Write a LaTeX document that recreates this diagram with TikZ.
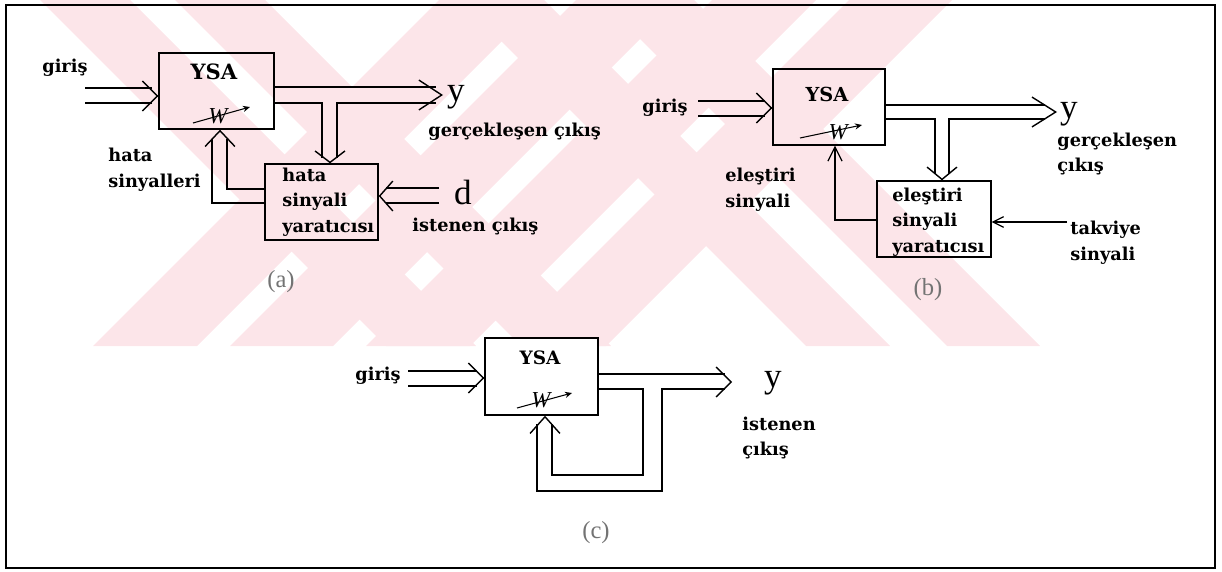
\documentclass[tikz,border=0pt]{standalone}
\usepackage{fontspec}
\setmainfont{DejaVu Serif}
\newfontfamily\thinfont{Liberation Serif}
\usetikzlibrary{arrows.meta,fit,calc}

\definecolor{wmpink}{RGB}{252,229,233}

\tikzset{
  blockbox/.style={draw, line width=0.8pt, inner sep=0pt},
  blocktitle/.style={font=\fontsize{#1}{13}\selectfont\bfseries, inner sep=0pt},
  blocktitle/.default=11,
  lbl/.style={font=\fontsize{10.1}{14.6}\selectfont\bfseries, inner sep=0pt, anchor=west, align=left},
  bigsym/.style={font=\thinfont\fontsize{20}{22}\selectfont, inner sep=0pt},
  wsym/.style={font=\thinfont\itshape\fontsize{13}{15}\selectfont, inner sep=0pt},
  sublbl/.style={font=\thinfont\fontsize{14}{16}\selectfont, inner sep=0pt, text=black!55},
  wire/.style={line width=0.8pt},
  vhead/.style={line width=0.8pt, -{Straight Barb[length=#1, width=17pt]}},
  vhead/.default=8.5pt,
  shead/.style={line width=0.7pt, -{Straight Barb[length=#1, width=#1]}},
  shead/.default=7pt,
  wtip/.style={line width=0.6pt, -{Stealth[length=4pt, width=3.5pt]}},
  wmark/.style={fill=wmpink, draw=none}
}

\begin{document}
\begin{tikzpicture}[x=0.02cm, y=-0.02cm]
  \useasboundingbox (0,0) rectangle (1222,571);

  % pale stripes in the background
  \begin{scope}
    \clip (6,0) rectangle (1215,346);
    \foreach \a/\w in {93/104,230/103,366/104,503/103}
      \fill[wmark] (\a,346) -- ++(\w,0) -- ++(346,-346) -- ++(-\w,0) -- cycle;
    \foreach \b/\w in {40/90,175/90,460/84,601/93}
      \fill[wmark] (\b,0) -- ++(\w,0) -- ++(346,346) -- ++(-\w,0) -- cycle;
  \end{scope}

  % Frame
  \draw[line width=1pt] (6,5) rectangle (1215,568);

  %%% (a)
  \node[blockbox, fit={(159,53) (274,129)}] (ysaA) {};
  \node[blocktitle=12] (ysaAtitle) at (214,72) {YSA};
  \node[wsym] (wA) at (218,116) {W};
  \draw[wtip] (193,123) -- (250,107);
  \node[blockbox, fit={(265,164) (378,240)}] (genA) {};
  \node[lbl] (genAtext) at (282,202) {hata\\sinyali\\yaratıcısı};

  % input
  \node[lbl] (girisA) at (42,68) {giriş};
  \coordinate (inA) at (ysaA.west |- 0,96);
  \draw[wire] (85,88) -- (152,88);
  \draw[wire] (85,103) -- (152,103);
  \draw[vhead] ($(inA)+(-1,0)$) -- (inA);

  % output, split down to the generator
  \coordinate (outA) at (443,95);
  \draw[wire] (ysaA.east |- 0,87) -- (436,87);
  \draw[wire] (ysaA.east |- 0,103) -| (322,158);
  \draw[wire] (436,103) -| (337,158);
  \draw[vhead=13pt] ($(outA)+(-1,0)$) -- (outA);
  \coordinate (downA) at (genA.north -| 330,0);
  \draw[vhead=6.5pt] ($(downA)+(0,-1)$) -- (downA);

  % error signals back to the network
  \coordinate (fbA) at (ysaA.south -| 220,0);
  \draw[wire] (genA.west |- 0,189) -| (227,139);
  \draw[wire] (genA.west |- 0,203) -| (212,139);
  \draw[vhead=9pt] ($(fbA)+(0,1)$) -- (fbA);

  % desired output
  \coordinate (dA) at (genA.east |- 0,196);
  \node[bigsym] (dsymA) at (463,192) {d};
  \draw[wire] (439,188) -- (386,188);
  \draw[wire] (439,203) -- (386,203);
  \draw[vhead=7.5pt] ($(dA)+(1,0)$) -- (dA);

  \node[bigsym] (yA) at (456,97) {y};
  \node[lbl] (realA) at (428,132) {gerçekleşen çıkış};
  \node[lbl] (errA) at (108,170) {hata\\sinyalleri};
  \node[lbl] (wantA) at (412,226) {istenen çıkış};
  \node[sublbl] (capA) at (281,282) {(a)};

  %%% (b)
  \node[blockbox, fit={(773,69) (885,145)}] (ysaB) {};
  \node[blocktitle] (ysaBtitle) at (827,94) {YSA};
  \node[wsym] (wB) at (838,132) {W};
  \draw[wtip] (800,138) -- (862,125);
  \node[blockbox, fit={(877,181) (991,257)}] (genB) {};
  \node[lbl] (genBtext) at (892,222) {eleştiri\\sinyali\\yaratıcısı};

  % input
  \node[lbl] (girisB) at (642,108) {giriş};
  \coordinate (inB) at (ysaB.west |- 0,108);
  \draw[wire] (698,101) -- (765,101);
  \draw[wire] (698,116) -- (765,116);
  \draw[vhead] ($(inB)+(-1,0)$) -- (inB);

  % output, split down to the generator
  \coordinate (outB) at (1057,112);
  \draw[wire] (ysaB.east |- 0,105) -- (1045,105);
  \draw[wire] (ysaB.east |- 0,119) -| (935,174);
  \draw[wire] (1045,119) -| (949,174);
  \draw[vhead=13.5pt] ($(outB)+(-1,0)$) -- (outB);
  \coordinate (downB) at (genB.north -| 942,0);
  \draw[vhead=7pt] ($(downB)+(0,-1)$) -- (downB);

  % critic signal back, reinforcement in
  \coordinate (fbB) at (ysaB.south -| 835,0);
  \draw[shead=8pt] (genB.west |- 0,220) -| (fbB);
  \draw[shead=6pt] (1067,222) -- (genB.east |- 0,222);

  \node[bigsym] (yB) at (1069,114) {y};
  \node[lbl] (realB) at (1057,154) {gerçekleşen\\çıkış};
  \node[lbl] (critB) at (725,190) {eleştiri\\sinyali};
  \node[lbl] (reinfB) at (1070,243) {takviye\\sinyali};
  \node[sublbl] (capB) at (928,290) {(b)};

  %%% (c)
  \node[blockbox, fit={(485,338) (598,415)}, fill=white] (ysaC) {};
  \node[blocktitle=10.5] (ysaCtitle) at (540,358) {YSA};
  \node[wsym] (wC) at (541,400) {W};
  \draw[wtip] (517,408) -- (572,393);

  % input
  \node[lbl] (girisC) at (355,376) {giriş};
  \coordinate (inC) at (ysaC.west |- 0,378);
  \draw[wire] (408,371) -- (477,371);
  \draw[wire] (408,386) -- (477,386);
  \draw[vhead] ($(inC)+(-1,0)$) -- (inC);

  % output, looped back into the network
  \coordinate (outC) at (732,382);
  \draw[wire] (ysaC.east |- 0,374) -- (725,374);
  \draw[wire] (ysaC.east |- 0,389) -| (643,475) -| (552,424);
  \draw[wire] (725,389) -| (662,491) -| (537,424);
  \draw[vhead] ($(outC)+(-1,0)$) -- (outC);
  \coordinate (fbC) at (ysaC.south -| 545,0);
  \draw[vhead=9.5pt] ($(fbC)+(0,1)$) -- (fbC);

  \node[bigsym] (yC) at (773,383) {y};
  \node[lbl] (wantC) at (742,438) {istenen\\çıkış};
  \node[sublbl] (capC) at (596,533) {(c)};
\end{tikzpicture}
\end{document}
